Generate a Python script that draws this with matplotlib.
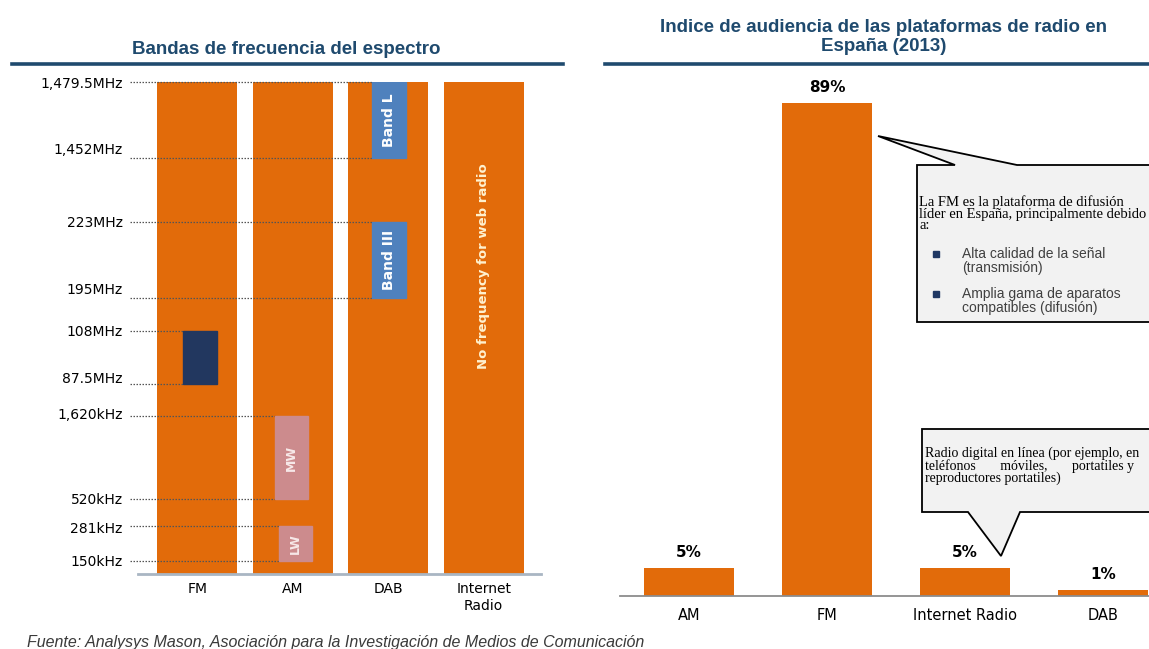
import matplotlib
matplotlib.use("Agg")
import matplotlib.pyplot as plt
from matplotlib.patches import Rectangle, Polygon
from matplotlib.lines import Line2D
import matplotlib.transforms as mtransforms

W, H = 1149, 649

# ---------------- data: left chart (frequency bands) ----------------
spectrum_platforms = ["FM", "AM", "DAB", "Internet\nRadio"]
freq_labels = ["150kHz", "281kHz", "520kHz", "1,620kHz", "87.5MHz",
               "108MHz", "195MHz", "223MHz", "1,452MHz", "1,479.5MHz"]
# position of each frequency on the chart's non-linear axis
freq_levels = [13, 48, 75, 158, 190, 243, 276, 352, 416, 492]
band_platform = ["FM", "AM", "AM", "DAB", "DAB"]
band_low = ["87.5MHz", "520kHz", "150kHz", "195MHz", "1,452MHz"]
band_high = ["108MHz", "1,620kHz", "281kHz", "223MHz", "1,479.5MHz"]
band_names = ["", "MW", "LW", "Band III", "Band L"]
web_radio_note = "No frequency for web radio"

# ---------------- data: right chart (audience share) ----------------
platforms = ["AM", "FM", "Internet Radio", "DAB"]
audience_pct = [5, 89, 5, 1]

# ---------------- styles ----------------
ORANGE = "#E26B0A"
TITLE_C = "#1F4A6E"
band_colors = ["#22375F", "#CC8B8D", "#CC8B8D", "#4F81BD", "#4F81BD"]
band_text_colors = ["white", "#F7E9E9", "#F7E9E9", "white", "white"]
band_offsets = [-0.146, -0.19, -0.146, -0.167, -0.167]
band_width = 0.35
label_raise = [0, -1.4, 0, 2, 5, 0, 7, 0, 7, 0]  # points

fig = plt.figure(figsize=(W / 100, H / 100), dpi=100)
fig.patch.set_facecolor("white")
pix = mtransforms.Affine2D().scale(1 / W, -1 / H).translate(0, 1) + fig.transFigure


def rect(l, t, r, b):
    return [l / W, 1 - b / H, (r - l) / W, (b - t) / H]


# ---------------- titles ----------------
fig.text(286, 50, "Bandas de frecuencia del espectro", transform=pix,
         ha="center", va="center", fontsize=13.5, fontweight="bold",
         family="Liberation Sans", color=TITLE_C)
fig.text(884, 37, "Indice de audiencia de las plataformas de radio en\nEspaña (2013)",
         transform=pix, ha="center", va="center", fontsize=13.5, fontweight="bold",
         family="Liberation Sans", color=TITLE_C, linespacing=1.1)
fig.add_artist(Line2D([12, 563], [64, 64], transform=pix, color=TITLE_C, lw=2.6))
fig.add_artist(Line2D([605, 1149], [64, 64], transform=pix, color=TITLE_C, lw=2.6))

# ---------------- left chart ----------------
axL = fig.add_axes(rect(138, 82, 541, 574))
xs = list(range(len(spectrum_platforms)))
top = max(freq_levels)
axL.bar(xs, [top] * len(xs), width=0.84, color=ORANGE, zorder=1)
axL.set_xlim(-0.62, 3.6)
axL.set_ylim(0, top)
for s in ["top", "left", "right"]:
    axL.spines[s].set_visible(False)
axL.spines["bottom"].set_color("#A9B6C3")
axL.spines["bottom"].set_linewidth(2)
axL.set_xticks(xs, spectrum_platforms, family="DejaVu Sans", fontsize=10)
axL.tick_params(axis="x", length=0, pad=6)
axL.set_yticks(freq_levels, freq_labels, family="DejaVu Sans", fontsize=10)
axL.tick_params(axis="y", length=0, pad=11)
for lab, dy in zip(axL.get_yticklabels(), label_raise):
    lab.set_transform(lab.get_transform() +
                      mtransforms.ScaledTranslation(0, dy / 72, fig.dpi_scale_trans))

lvl = dict(zip(freq_labels, freq_levels))
cat = {p: i for i, p in enumerate(["FM", "AM", "DAB", "Internet"])}
line_end = {}
for plat, lo, hi, name, col, tcol, off in zip(band_platform, band_low, band_high,
                                               band_names, band_colors, band_text_colors,
                                               band_offsets):
    x0 = cat[plat] + off
    y0, y1 = lvl[lo], lvl[hi]
    axL.add_patch(Rectangle((x0, y0), band_width, y1 - y0, color=col, zorder=3))
    line_end[lo] = x0
    line_end[hi] = x0
    if name:
        fs = 10 if name.startswith("Band") else 9
        axL.text(x0 + band_width / 2, (y0 + y1) / 2, name, rotation=90,
                 ha="center", va="center", color=tcol, fontsize=fs,
                 fontweight="bold", family="DejaVu Sans", zorder=4)

for lab, y in zip(freq_labels, freq_levels):
    axL.plot([-0.70, line_end[lab]], [y, y], ls=(0, (1.2, 1.2)), color="#555555",
             lw=0.9, clip_on=False, zorder=2)

axL.text(3, 308, web_radio_note, rotation=90, ha="center", va="center",
         color="#FFF2D0", fontsize=9.5, fontweight="bold", family="DejaVu Sans")

# ---------------- right chart ----------------
axR = fig.add_axes(rect(620, 70, 1172, 596))
xr = list(range(len(platforms)))
axR.bar(xr, audience_pct, width=0.645, color=ORANGE)
axR.set_xlim(-0.5, 3.5)
axR.set_ylim(0, 95)
for s in ["top", "left", "right"]:
    axR.spines[s].set_visible(False)
axR.spines["bottom"].set_color("#8C8C8C")
axR.spines["bottom"].set_linewidth(1.3)
axR.set_yticks([])
axR.set_xticks(xr, platforms, family="DejaVu Sans", fontsize=10.5)
axR.tick_params(axis="x", length=0, pad=9)
for x, v in zip(xr, audience_pct):
    axR.annotate(f"{v}%", (x, v), xytext=(0, 6), textcoords="offset points",
                 ha="center", va="bottom", fontsize=11, fontweight="bold",
                 family="DejaVu Sans")

# callout 1 (FM)
c1 = [(917, 165), (955, 165), (878, 136), (1017, 165), (1170, 165),
      (1170, 322), (917, 322)]
fig.add_artist(Polygon(c1, closed=True, transform=pix, facecolor="#F2F2F2",
                       edgecolor="black", lw=1.3))
fig.text(919, 195, "La FM es la plataforma de difusión\nlíder en España, principalmente debido\na:",
         transform=pix, ha="left", va="top", fontsize=10.5, family="Liberation Serif",
         linespacing=0.88, color="black")
for yb in (251, 291):
    fig.add_artist(Rectangle((933, yb), 6, 6, transform=pix, color="#1F3864"))
fig.text(962, 247, "Alta calidad de la señal\n(transmisión)", transform=pix,
         ha="left", va="top", fontsize=10, family="Liberation Sans", color="#404040",
         linespacing=1.0)
fig.text(962, 287, "Amplia gama de aparatos\ncompatibles (difusión)", transform=pix,
         ha="left", va="top", fontsize=10, family="Liberation Sans", color="#404040",
         linespacing=1.0)

# callout 2 (Internet Radio)
c2 = [(922, 429), (1170, 429), (1170, 512), (1020, 512), (1001, 556),
      (968, 512), (922, 512)]
fig.add_artist(Polygon(c2, closed=True, transform=pix, facecolor="#F2F2F2",
                       edgecolor="black", lw=1.3))
fig.text(925, 447, "Radio digital en línea (por ejemplo, en\n"
         "teléfonos       móviles,       portatiles y\n"
         "reproductores portatiles)",
         transform=pix, ha="left", va="top", fontsize=10, family="Liberation Serif",
         linespacing=0.88, color="black")

# source
fig.text(27, 642, "Fuente: Analysys Mason, Asociación para la Investigación de Medios de Comunicación",
         transform=pix, ha="left", va="center", fontsize=11.5, style="italic",
         family="Liberation Sans", color="#3A3A3A")

fig.savefig("out.png", dpi=100, facecolor="white")
